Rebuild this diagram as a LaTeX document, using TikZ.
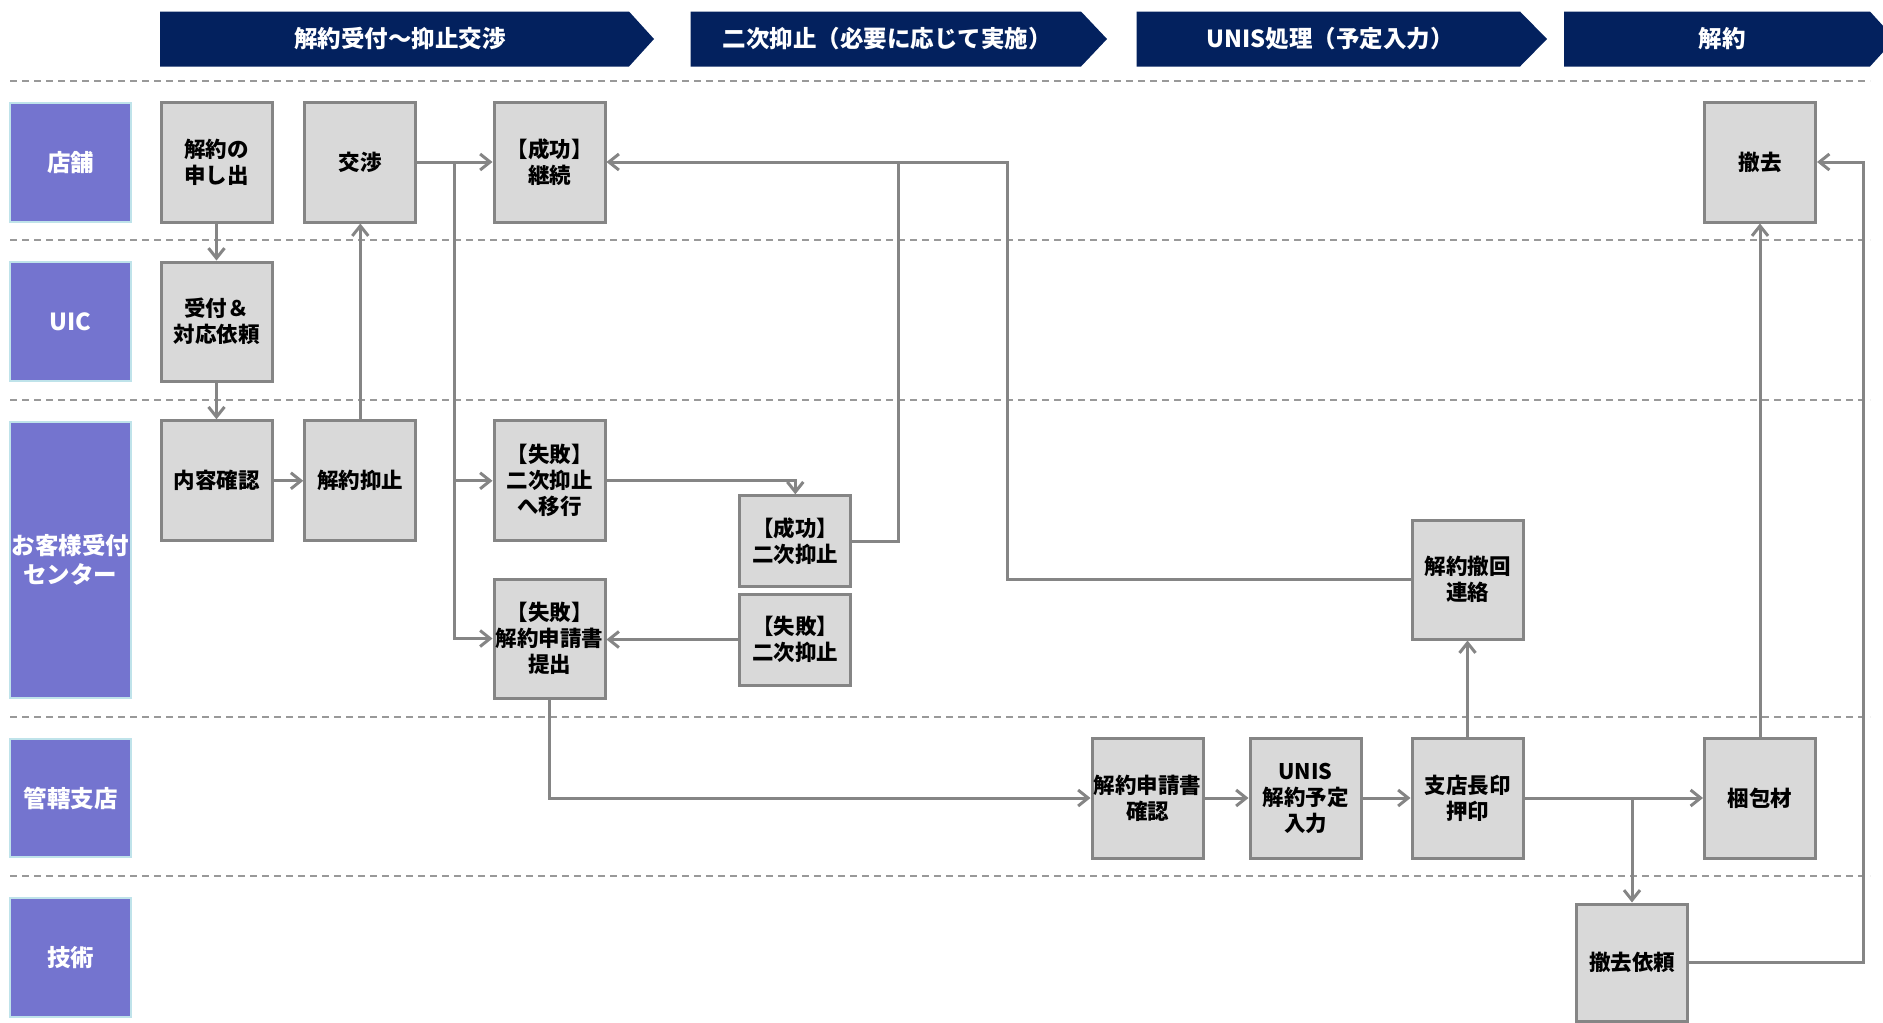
\documentclass[tikz,border=0pt]{standalone}
\usepackage{fontspec}
\setmainfont{Noto Sans CJK JP}
\usetikzlibrary{arrows.meta,calc}
\definecolor{navy}{HTML}{03215E}
\definecolor{lanepurple}{HTML}{7474CF}
\definecolor{laneedge}{HTML}{BFE3EA}
\definecolor{boxfill}{HTML}{D9D9D9}
\definecolor{boxedge}{HTML}{858585}
\definecolor{linegray}{HTML}{858585}
\definecolor{dashgray}{HTML}{999999}
\begin{document}
\begin{tikzpicture}[x=1pt,y=-1pt,
  stepbox/.style={draw=boxedge, fill=boxfill, line width=3pt, minimum width=111pt, minimum height=120pt, inner sep=0pt, align=center, font=\fontsize{21.5}{26}\selectfont\bfseries, text=black},
  lanebox/.style={draw=laneedge, fill=lanepurple, line width=2pt, minimum width=121pt, inner sep=0pt, align=center, text=white, font=\fontsize{23.5}{29}\selectfont\bfseries},
  bannertext/.style={text=white, font=\fontsize{23.5}{26}\selectfont\bfseries, inner sep=0pt},
  arr/.style={draw=linegray, line width=3pt, -{Straight Barb[length=10pt,width=16pt]}},
  ln/.style={draw=linegray, line width=3pt},
  sepline/.style={draw=dashgray, line width=2pt, dash pattern=on 7pt off 5pt}]
\useasboundingbox (0,0) rectangle (1883,1023);
\clip (0,0) rectangle (1883,1023);

% banners
\fill[navy] (160,11.5) -- (629,11.5) -- (654,39) -- (629,66.5) -- (160,66.5) -- cycle;
\node[bannertext] (t1) at (400,39) {解約受付～抑止交渉};
\fill[navy] (690.5,11.5) -- (1081,11.5) -- (1107,39) -- (1081,66.5) -- (690.5,66.5) -- cycle;
\node[bannertext] (t2) at (887,39) {二次抑止（必要に応じて実施）};
\fill[navy] (1136.5,11.5) -- (1520,11.5) -- (1547,39) -- (1520,66.5) -- (1136.5,66.5) -- cycle;
\node[bannertext] (t3) at (1330,39) {UNIS処理（予定入力）};
\fill[navy] (1564,11.5) -- (1870,11.5) -- (1895,39) -- (1870,66.5) -- (1564,66.5) -- cycle;
\node[bannertext] (t4) at (1722,39) {解約};

% separators
\foreach \yy in {81,239.5,399.5,717,876}
  \draw[sepline] (10,\yy) -- (1870,\yy);

% lanes
\node[lanebox, minimum height=119pt] (l1) at (70.5,162.2) {店舗};
\node[lanebox, minimum height=119pt] (l2) at (70.5,321.5) {UIC};
\node[lanebox, minimum height=276pt] (l3) at (70.5,560) {お客様受付\\センター};
\node[lanebox, minimum height=118pt] (l4) at (70.5,798) {管轄支店};
\node[lanebox, minimum height=119pt] (l5) at (70.5,957.5) {技術};

% boxes
\node[stepbox] (a1) at (216.5,162) {解約の\\申し出};
\node[stepbox, minimum height=119pt] (a2) at (216.5,321.5) {受付＆\\対応依頼};
\node[stepbox] (a3) at (216.5,480.8) {内容確認};
\node[stepbox] (b1) at (360.3,162) {交渉};
\node[stepbox] (b2) at (360.3,480.8) {解約抑止};
\node[stepbox] (c1) at (549.5,162) {【成功】\\継続};
\node[stepbox] (c2) at (549.5,480.8) {【失敗】\\二次抑止\\へ移行};
\node[stepbox, minimum height=119pt] (c3) at (549.5,638.5) {【失敗】\\解約申請書\\提出};
\node[stepbox, minimum height=91pt] (d1) at (795.3,541.3) {【成功】\\二次抑止};
\node[stepbox, minimum height=91pt] (d2) at (795.3,639.5) {【失敗】\\二次抑止};
\node[stepbox] (e1) at (1147.5,798) {解約申請書\\確認};
\node[stepbox] (f1) at (1305.5,798) {UNIS\\解約予定\\入力};
\node[stepbox, minimum height=119pt] (g1) at (1467.5,579.5) {解約撤回\\連絡};
\node[stepbox] (g2) at (1467.5,798) {支店長印\\押印};
\node[stepbox, minimum height=117pt] (h1) at (1632,962.5) {撤去依頼};
\node[stepbox] (i1) at (1760,162) {撤去};
\node[stepbox] (i2) at (1760,798) {梱包材};

% connectors
\draw[arr] (a1.south) -- (a2.north);
\draw[arr] (a2.south) -- (a3.north);
\draw[arr] (a3.east) -- (b2.west);
\draw[arr] (b2.north) -- (b1.south);
\draw[arr] (b1.east) -- (c1.west);
\coordinate (j1) at ($(b1.east)!0.5!(c1.west)$);
\draw[arr] (j1) |- (c3.west);
\draw[arr] (j1 |- c2.west) -- (c2.west);
\draw[arr] (c2.east) -| (d1.north);
\coordinate (k1) at (898,162);
\draw[arr] (d1.east) -| (k1) -- (c1.east);
\coordinate (k2) at (1007.6,162);
\draw[ln] (g1.west) -| (k2) -- (k1);
\draw[arr] (d2.west) -- (d2.west -| c3.east);
\draw[arr] (c3.south) |- (e1.west);
\draw[arr] (e1.east) -- (f1.west);
\draw[arr] (f1.east) -- (g2.west);
\draw[arr] (g2.north) -- (g1.south);
\draw[arr] (g2.east) -- (i2.west);
\draw[arr] (g2.east -| h1.north) -- (h1.north);
\draw[arr] (i2.north) -- (i1.south);
\coordinate (m1) at (1863,962.5);
\draw[arr] (h1.east) -- (m1) |- (i1.east);
\end{tikzpicture}
\end{document}
